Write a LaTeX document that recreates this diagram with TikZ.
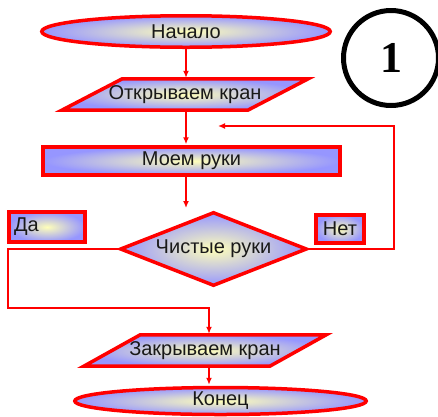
\documentclass[tikz,border=0pt]{standalone}
\usepackage{fontspec}
\setmainfont{Liberation Sans}
\newfontfamily\numfont{Liberation Serif}
\usetikzlibrary{shapes.geometric,arrows.meta,backgrounds}
\definecolor{fillblue}{RGB}{150,150,255}
\definecolor{fillyellow}{RGB}{255,255,185}
\definecolor{linered}{RGB}{255,0,0}
\tikzset{
  blockline/.style={draw=linered, line width=3.5pt, line join=miter},
  blockfill/.style={inner color=fillyellow, outer color=fillblue},
  labeltext/.style={inner sep=0pt, font=\fontsize{20}{24}\selectfont, text=black!90},
  block/.style={blockline, blockfill, labeltext},
  conn/.style={draw=linered, line width=2pt, -{Latex[length=7pt,width=6pt]}, shorten >=1pt},
}
\begin{document}
\begin{tikzpicture}[x=1pt,y=-1pt]
\useasboundingbox (0,0) rectangle (438,416);
% number circle
\node[draw=black, line width=5pt, circle, minimum size=95pt, inner sep=0pt,
      font=\numfont\bfseries\fontsize{44}{44}\selectfont] (num) at (391,58) {1};
% blocks
\node[block, ellipse, minimum width=288.5pt, minimum height=31.5pt] (start) at (186,31.5) {Начало};
\node[labeltext, minimum width=246pt, minimum height=31pt] (open) at (185,94.5) {Открываем кран};
\node[block, rectangle, minimum width=297pt, minimum height=28pt] (wash) at (191.5,161) {Моем руки};
\node[block, diamond, aspect=2.53, minimum width=187pt, minimum height=74pt] (clean) at (213.5,249) {Чистые руки};
\node[block, rectangle, minimum width=76pt, minimum height=30pt, text width=66pt, align=left] (yes) at (47,227) {Да};
\node[block, rectangle, minimum width=48pt, minimum height=28pt] (no) at (340,229) {Нет};
\node[labeltext, minimum width=242pt, minimum height=31pt] (close) at (205,350.5) {Закрываем кран};
\node[block, ellipse, minimum width=291.5pt, minimum height=27pt] (end) at (220.5,401) {Конец};
\begin{scope}[on background layer]
  \path[blockline, blockfill] (open.south west) -- ++(186,0) -- (open.north east) -- ++(-186,0) -- cycle;
  \path[blockline, blockfill] (close.south west) -- ++(186,0) -- (close.north east) -- ++(-186,0) -- cycle;
\end{scope}
% free ends and turning points
\coordinate (a3) at (186,209);
\coordinate (rx) at (394,126);
\coordinate (fb) at (217,126);
\coordinate (lx) at (8,308);
% connectors
\draw[conn] (start.south) -- (start.south |- open.north);
\draw[conn] (open.south -| start.south) -- (wash.north -| start.south);
\draw[conn] (wash.south -| start.south) -- (a3);
\draw[conn] (clean.east) -| (rx) -- (fb);
\draw[conn] (clean.west) -| (lx) -| ([xshift=4pt]close.north);
\draw[conn] ([xshift=4pt]close.south) -- ([xshift=4pt]close.south |- end.north);
\end{tikzpicture}
\end{document}
